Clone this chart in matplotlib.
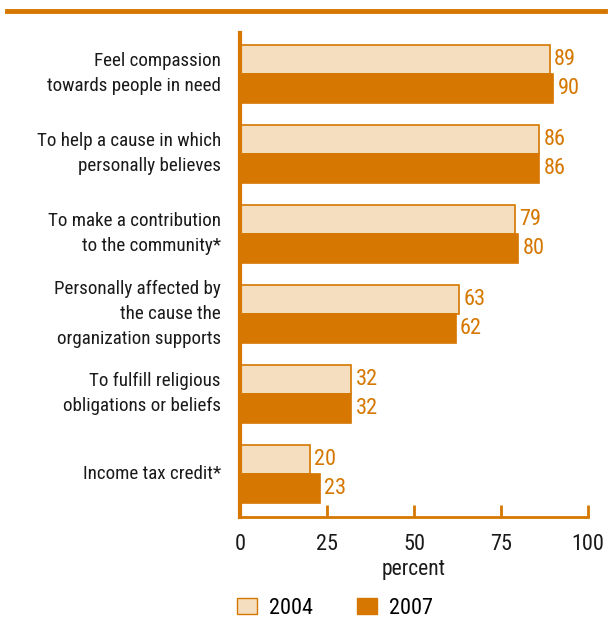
import numpy as np
import matplotlib.pyplot as plt
from matplotlib import font_manager
from matplotlib.patches import Patch
from matplotlib.lines import Line2D

# data
labels = ['Feel compassion\ntowards people in need',
          'To help a cause in which\npersonally believes',
          'To make a contribution\nto the community*',
          'Personally affected by\nthe cause the\norganization supports',
          'To fulfill religious\nobligations or beliefs',
          'Income tax credit*']
vals_2004 = [89, 86, 79, 63, 32, 20]
vals_2007 = [90, 86, 80, 62, 32, 23]
years = ['2004', '2007']

orange = '#D57700'
light = '#F5DEC0'

# pick a condensed face if there is one
installed = set(f.name for f in font_manager.fontManager.ttflist)
family = 'DejaVu Sans'
fs, fs_big = 11, 12
for name in ['Roboto Condensed', 'Archivo Narrow', 'PT Sans Narrow', 'Liberation Sans Narrow',
             'Open Sans Condensed', 'Encode Sans Condensed', 'Fira Sans Condensed', 'Barlow Condensed']:
    if name in installed:
        family = name
        fs, fs_big = 13.7, 16
        break
plt.rcParams['font.family'] = [family, 'DejaVu Sans']

fig = plt.figure(figsize=(6.08, 6.21), dpi=100)
W, H = 608, 621
ax = fig.add_axes([240 / W, (H - 517) / H, 348 / W, 484 / H])

y = np.arange(len(labels))
h = 0.36
ax.barh(y - h / 2, vals_2004, height=h, color=light, edgecolor=orange, linewidth=1.2)
ax.barh(y + h / 2, vals_2007, height=h, color=orange, edgecolor=orange, linewidth=1.2)

for i in range(len(labels)):
    ax.text(vals_2004[i] + 1.2, y[i] - h / 2, str(vals_2004[i]), color=orange,
            fontsize=fs_big, va='center', ha='left')
    ax.text(vals_2007[i] + 1.2, y[i] + h / 2, str(vals_2007[i]), color=orange,
            fontsize=fs_big, va='center', ha='left')
    ax.text(-5.5, y[i], labels[i], ha='right', va='center', fontsize=fs,
            linespacing=1.5, color='#1a1a1a')

ax.set_xlim(0, 100)
ax.set_ylim(5.54, -0.51)
ax.set_yticks([])
ax.set_xticks([0, 25, 50, 75, 100])
ax.tick_params(axis='x', direction='in', length=9, width=2, color=orange,
               labelsize=fs_big, pad=12, labelcolor='#1a1a1a')
ax.set_xlabel('percent', fontsize=fs_big - 0.5, labelpad=3, color='#1a1a1a')
for s in ['top', 'right']:
    ax.spines[s].set_visible(False)
ax.spines['left'].set_color(orange)
ax.spines['left'].set_linewidth(3)
ax.spines['bottom'].set_color(orange)
ax.spines['bottom'].set_linewidth(2)

# top rule
fig.add_artist(Line2D([7 / W, 605 / W], [1 - 11 / H, 1 - 11 / H], color=orange, lw=3.5))

handles = [Patch(facecolor=light, edgecolor=orange, lw=1), Patch(facecolor=orange, edgecolor=orange)]
fig.legend(handles, years, loc='center', bbox_to_anchor=(335 / W, 1 - 608 / H), ncol=2,
           frameon=False, fontsize=fs_big, handlelength=0.9, handleheight=0.7,
           columnspacing=2.0, handletextpad=0.55)

fig.savefig('out.png', dpi=100)
